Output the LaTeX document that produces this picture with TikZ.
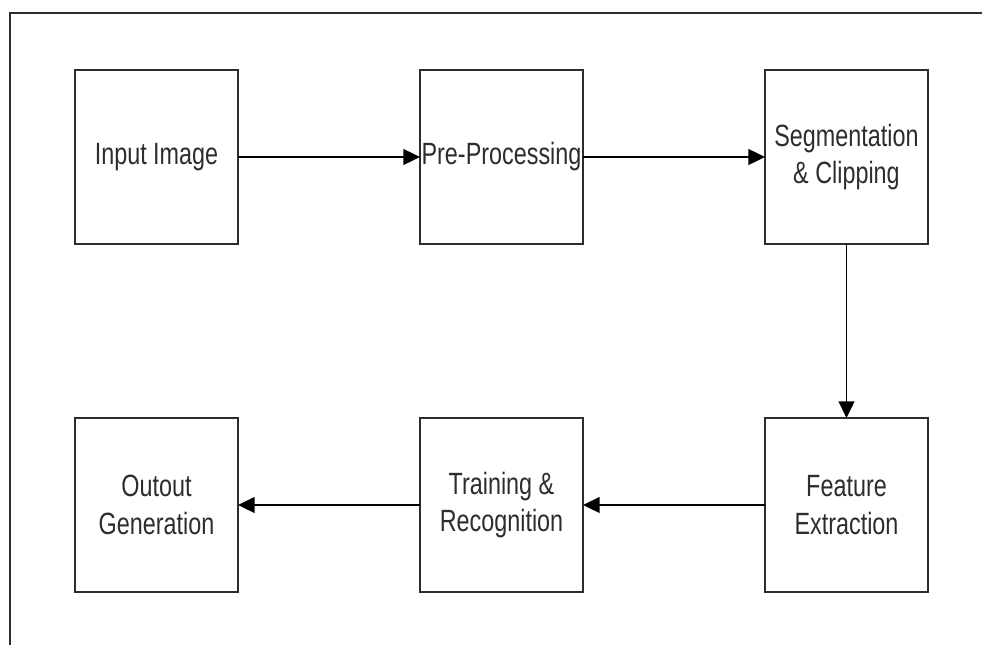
\documentclass[tikz,border=0pt]{standalone}
\usepackage{fontspec}
\setmainfont{Liberation Sans}[FakeStretch=0.76]
\usepackage{tikz}
\usetikzlibrary{positioning, arrows.meta}
\tikzset{>={Triangle[length=9.5pt,width=9pt]}}
\definecolor{mygray}{RGB}{45, 45, 45}
\tikzset{
	stage/.style = {draw = mygray, line width = 1.1pt, minimum width = 3.26cm, minimum height = 3.48cm,
		align = center, text = mygray, inner sep = 0pt, outer sep = 0pt, font = \fontsize{17.5}{21.5}\selectfont},
	flow/.style = {->, line width = 1.1pt, draw = black}
}

\begin{document}
\begin{tikzpicture}
\useasboundingbox (0, 0) rectangle (19.64, -12.88);
\clip (0, 0) rectangle (19.64, -12.88);
% outer frame, cut off at right and bottom
\draw[mygray, line width = 1.1pt] (0.2, -13.5) -- (0.2, -0.26) -- (20.5, -0.26);

\node[stage] (input) at (3.13, -3.14) {Input Image};
\node[stage, right = 3.64cm of input] (preproc) {Pre-Processing};
\node[stage, right = 3.64cm of preproc] (segment) {Segmentation\\ \& Clipping};
\node[stage, below = 3.48cm of segment] (feature) {Feature\\ Extraction};
\node[stage, left = 3.64cm of feature] (training) {Training \&\\ Recognition};
\node[stage, left = 3.64cm of training] (output) {Outout\\ Generation};

\draw[flow] (input) -- (preproc);
\draw[flow] (preproc) -- (segment);
\draw[flow] (segment) -- (feature);
\draw[flow] (feature) -- (training);
\draw[flow] (training) -- (output);

\end{tikzpicture}
\end{document}
